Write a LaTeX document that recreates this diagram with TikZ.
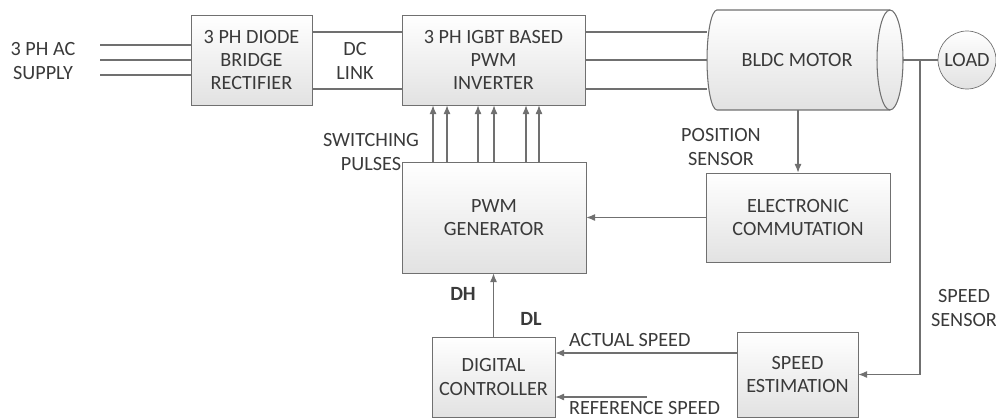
\documentclass[tikz,border=0pt]{standalone}
\usepackage{fontspec}
\setmainfont{Carlito}
\usepackage{tikz}
\usetikzlibrary{arrows.meta,positioning}

\definecolor{linegray}{HTML}{707070}
\definecolor{txtgray}{HTML}{3A3A3A}
\definecolor{boxbot}{HTML}{E2E2E2}

\begin{document}
\begin{tikzpicture}[x=0.02cm, y=-0.02cm,
  font=\fontsize{11.5}{13.2}\selectfont,
  blk/.style={draw=linegray, top color=white, bottom color=boxbot, align=center, text=txtgray, inner sep=2pt},
  lbl/.style={align=center, text=txtgray, inner sep=1pt},
  wire/.style={draw=linegray, line width=0.6pt},
  arr/.style={wire, -{Latex[length=5pt, width=4pt]}}]

  \useasboundingbox (0,0) rectangle (996,419);

  % Motor body, drawn as a cylinder lying on its side
  \shade[top color=white, bottom color=boxbot, draw=linegray, line width=0.6pt]
    (717,10) -- (890,10) arc[start angle=90, end angle=-90, x radius=0.26cm, y radius=1cm]
    -- (717,110) arc[start angle=270, end angle=90, x radius=0.2cm, y radius=1cm] -- cycle;
  \draw[wire] (890,10) arc[start angle=90, end angle=270, x radius=0.26cm, y radius=1cm];

  % Power stage
  \node[lbl] (supply) at (43,61) {3 PH AC\\SUPPLY};
  \coordinate (ac) at (100,60);
  \node[blk, minimum width=2.42cm, minimum height=1.8cm] (rect) at (251.5,60) {3 PH DIODE\\BRIDGE\\RECTIFIER};
  \node[lbl] (dclink) at (355,61) {DC\\LINK};
  \node[blk, minimum width=3.66cm, minimum height=1.8cm] (inv) at (493.5,60) {3 PH IGBT BASED\\PWM\\INVERTER};
  \node[lbl, minimum width=3.92cm, minimum height=2cm, inner sep=0pt] (motor) at (805,60) {\hspace*{-0.32cm}BLDC MOTOR};
  \node[blk, circle, minimum size=1.16cm, inner sep=0pt] (load) at (967,60) {LOAD};
  \coordinate (tap) at (920,60);

  % Control stage
  \node[blk, minimum width=3.68cm, minimum height=2.22cm] (pwm) at (494,217.5) {PWM\\GENERATOR};
  \node[blk, minimum width=3.68cm, minimum height=1.78cm] (comm) at (798,217.5) {ELECTRONIC\\COMMUTATION};
  \node[blk, minimum width=2.46cm, minimum height=1.6cm] (ctrl) at (493.5,377) {DIGITAL\\CONTROLLER};
  \node[blk, minimum width=2.42cm, minimum height=1.7cm] (est) at (797.5,374.5) {SPEED\\ESTIMATION};

  % Signal labels
  \node[lbl] (pulses) at (371,152) {SWITCHING\\PULSES};
  \node[lbl] (possens) at (721,147) {POSITION\\SENSOR};
  \node[lbl] (spdsens) at (964,308) {SPEED\\SENSOR};
  \node[lbl] (dh) at (463,294) {\textbf{DH}};
  \node[lbl] (dl) at (531,319) {\textbf{DL}};
  \node[lbl, anchor=south west] (actlbl) at (567,349) {ACTUAL SPEED};
  \node[lbl, anchor=north west] (reflbl) at (567,399.5) {REFERENCE SPEED};
  \coordinate (refin) at (647,397);

  % Three phase wiring
  \foreach \dy in {0.3cm,0cm,-0.3cm}
    \draw[wire] ([yshift=\dy]ac) -- ([yshift=\dy]rect.west);
  \foreach \dy in {0.56cm,-0.58cm}
    \draw[wire] ([yshift=\dy]rect.east) -- ([yshift=\dy]inv.west);
  \foreach \dy in {0.56cm,0cm,-0.58cm}
    \draw[wire] ([yshift=\dy]inv.east) -- ([yshift=\dy]motor.west);
  \draw[wire] (motor.east) -- (load.west);

  % Gate pulses
  \foreach \dx in {-1.22cm,-0.94cm,-0.32cm,0cm,0.64cm,0.9cm}
    \draw[arr] ([xshift=\dx]pwm.north) -- ([xshift=\dx]pwm.north |- inv.south);

  % Feedback paths
  \draw[arr] (comm.north |- motor.south) -- (comm.north);
  \draw[arr] (comm.west) -- (pwm.east);
  \draw[arr] (tap) |- (est.east);
  \path ([yshift=0.43cm]est.west) coordinate (act);
  \draw[arr] (act) -- (act -| ctrl.east);
  \draw[arr] (refin) -- (refin -| ctrl.east);
  \draw[arr] (ctrl.north) -- (ctrl.north |- pwm.south);

\end{tikzpicture}
\end{document}
